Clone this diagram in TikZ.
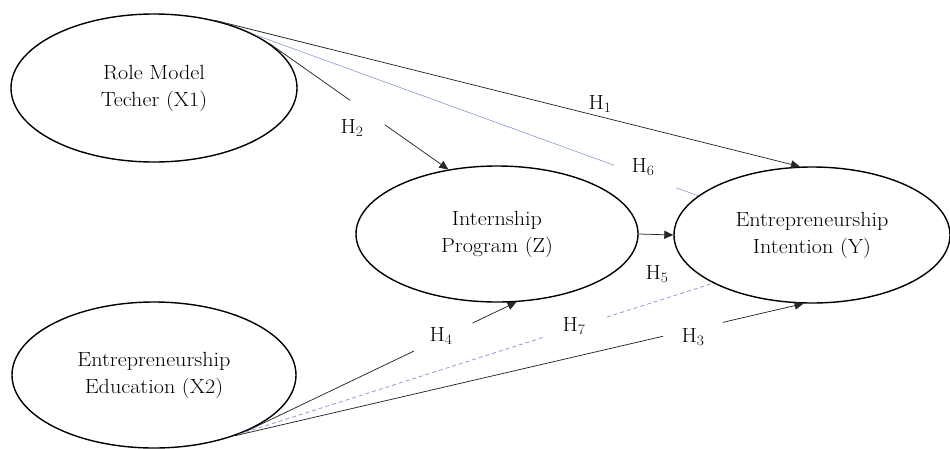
\documentclass[tikz,border=0pt]{standalone}
\usepackage{fontspec}
\setmainfont{Latin Modern Roman}[FakeStretch=1.08]
\usetikzlibrary{shapes.geometric,arrows.meta,calc}
\definecolor{medblue}{RGB}{130,155,205}
\definecolor{medlav}{RGB}{150,150,215}
\begin{document}
\begin{tikzpicture}[x=1pt,y=-1pt,
  construct/.style={ellipse,draw,line width=1.4pt,inner sep=0pt,align=center,
    font=\fontsize{20.5}{27}\selectfont},
  link/.style={draw=black!85,line width=0.75pt},
  arr/.style={-{Triangle[length=9pt,width=8pt]}},
  med/.style={draw=medblue,line width=0.6pt},
  medd/.style={draw=medlav,line width=0.8pt,dash pattern=on 4pt off 3pt},
  hyp/.style={font=\fontsize{20.5}{22}\selectfont,inner sep=1pt}]
\useasboundingbox (0,0) rectangle (950,448);
\node[construct,minimum width=286pt,minimum height=148pt] (X1) at (154,88) {Role Model\\Techer (X1)};
\node[construct,minimum width=282pt,minimum height=136pt] (Z) at (497,234) {Internship\\Program (Z)};
\node[construct,minimum width=276pt,minimum height=136pt] (Y) at (812,235) {Entrepreneurship\\Intention (Y)};
\node[construct,minimum width=284pt,minimum height=146pt] (X2) at (154,375) {Entrepreneurship\\Education (X2)};
% H1
\draw[link,arr] (X1.48) -- (Y.100);
% H6
\draw[med] (X1.28) -- ($(X1.28)!0.811!(Y.161)$);
\draw[med] ($(X1.28)!0.951!(Y.161)$) -- (Y.161);
% H2
\draw[link] (X1.21) -- ($(X1.21)!0.45!(Z.127)$);
\draw[link,arr] ($(X1.21)!0.644!(Z.127)$) -- (Z.127);
% H5
\draw[link,arr] (Z.east) -- (Y.west);
% H4
\draw[link] (X2.-31) -- ($(X2.-31)!0.619!(Z.-74)$);
\draw[link,arr] ($(X2.-31)!0.837!(Z.-74)$) -- (Z.-74);
% H7
\draw[medd] (X2.-35) -- ($(X2.-35)!0.642!(Y.206)$);
\draw[medd] ($(X2.-35)!0.776!(Y.206)$) -- (Y.206);
% H3
\draw[link] (X2.-37) -- ($(X2.-37)!0.753!(Y.263)$);
\draw[link,arr] ($(X2.-37)!0.858!(Y.263)$) -- (Y.263);
% labels
\node[hyp] (h1) at (600,104) {H\textsubscript{1}};
\node[hyp] (h2) at (352,128) {H\textsubscript{2}};
\node[hyp] (h6) at (643,167) {H\textsubscript{6}};
\node[hyp] (h5) at (657,274) {H\textsubscript{5}};
\node[hyp] (h4) at (441,336) {H\textsubscript{4}};
\node[hyp] (h7) at (574,326) {H\textsubscript{7}};
\node[hyp] (h3) at (693,337) {H\textsubscript{3}};
\end{tikzpicture}
\end{document}
